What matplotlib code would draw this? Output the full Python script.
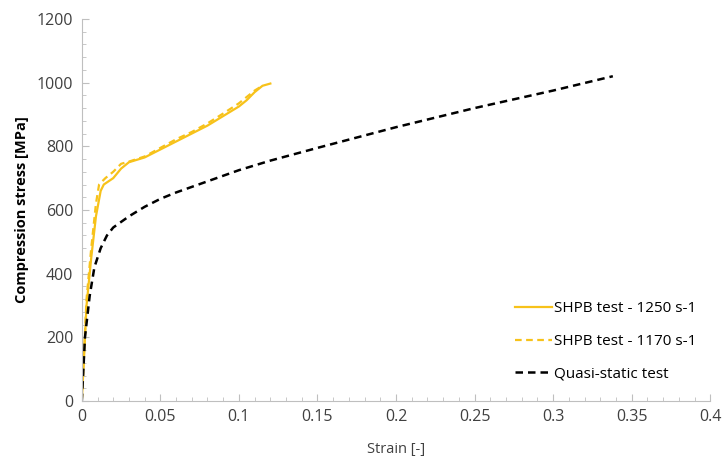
import matplotlib
matplotlib.use("Agg")
import matplotlib.pyplot as plt
from matplotlib.ticker import MultipleLocator

# ── Data ─────────────────────────────────────────────────────────────────────
strain_1250 = [0, 0.003, 0.006, 0.009, 0.012, 0.014, 0.02, 0.025, 0.03, 0.04,
               0.05, 0.06, 0.07, 0.08, 0.09, 0.1, 0.105, 0.11, 0.115, 0.12]
stress_1250 = [0, 300, 450, 580, 660, 680, 700, 730, 750, 765,
               790, 815, 840, 865, 895, 925, 945, 970, 990, 997]

strain_1170 = [0, 0.003, 0.006, 0.009, 0.011, 0.015, 0.02, 0.025, 0.03, 0.04,
               0.05, 0.06, 0.07, 0.08, 0.09, 0.1, 0.11, 0.115]
stress_1170 = [0, 320, 480, 620, 680, 700, 720, 745, 752, 768,
               795, 822, 845, 872, 903, 935, 975, 990]

strain_qs = [0, 0.002, 0.005, 0.008, 0.012, 0.016, 0.02, 0.03, 0.04, 0.05,
             0.06, 0.08, 0.1, 0.12, 0.15, 0.2, 0.25, 0.3, 0.338]
stress_qs = [0, 200, 330, 420, 480, 520, 545, 580, 610, 635,
             655, 690, 725, 755, 795, 860, 920, 975, 1020]

x_ticks = [0, 0.05, 0.1, 0.15, 0.2, 0.25, 0.3, 0.35, 0.4]
x_tick_labels = ["0", "0.05", "0.1", "0.15", "0.2", "0.25", "0.3", "0.35", "0.4"]
y_ticks = [0, 200, 400, 600, 800, 1000, 1200]

YELLOW = "#F7C21A"
AXIS_GREY = "#BFBFBF"
TEXT = "#404040"

plt.rcParams["font.family"] = ["Open Sans", "DejaVu Sans"]

fig = plt.figure(figsize=(7.24, 4.61), dpi=100)
ax = fig.add_axes([0.113, 0.130, 0.868, 0.829])

ax.plot(strain_1250, stress_1250, color=YELLOW, lw=1.6, label="SHPB test - 1250 s-1")
ax.plot(strain_1170, stress_1170, color=YELLOW, lw=1.6, ls=(0, (3, 2)),
        label="SHPB test - 1170 s-1")
ax.plot(strain_qs, stress_qs, color="black", lw=1.8, ls=(0, (3, 2)),
        label="Quasi-static test")

ax.set_xlim(0, 0.4)
ax.set_ylim(0, 1200)
ax.set_xticks(x_ticks, labels=x_tick_labels)
ax.set_yticks(y_ticks)
ax.xaxis.set_minor_locator(MultipleLocator(0.01))
ax.yaxis.set_minor_locator(MultipleLocator(40))

for side in ("top", "right"):
    ax.spines[side].set_visible(False)
for side in ("left", "bottom"):
    ax.spines[side].set_color(AXIS_GREY)

ax.tick_params(which="both", direction="in", color=AXIS_GREY, labelcolor=TEXT,
               labelsize=11.5)
ax.tick_params(which="major", length=5, pad=6)
ax.tick_params(which="minor", length=3)

ax.set_xlabel("Strain [-]", fontsize=10.5, color=TEXT, labelpad=12)
ax.set_ylabel("Compression stress [MPa]", fontsize=10.5, color="black",
              fontweight="bold", labelpad=6)

leg = ax.legend(loc="lower right", bbox_to_anchor=(1.0, 0.015), frameon=False,
                fontsize=11, handlelength=2.4, handletextpad=0.15,
                labelspacing=1.15)
for t in leg.get_texts():
    t.set_color("black")

fig.savefig("out.png", dpi=100)
